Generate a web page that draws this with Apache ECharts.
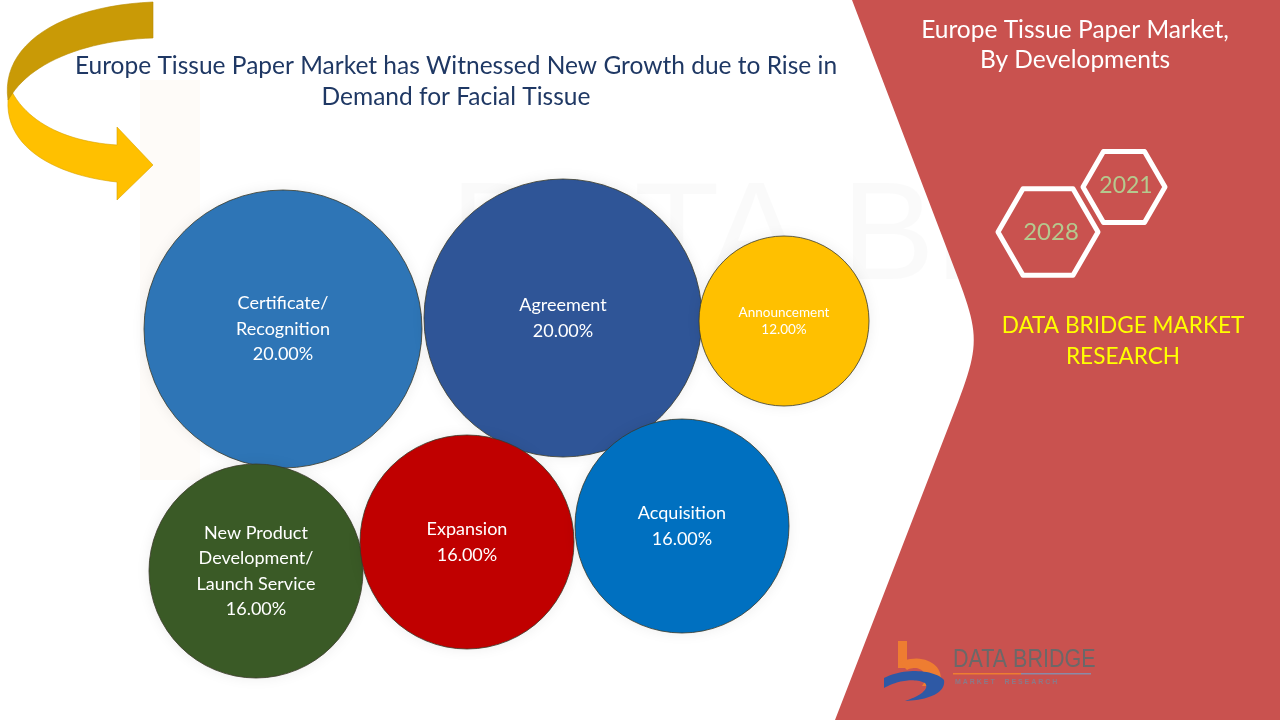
<!DOCTYPE html>
<html>
<head>
<meta charset="utf-8">
<script src="https://cdn.jsdelivr.net/npm/echarts@6/dist/echarts.min.js"></script>
<style>html,body{margin:0;padding:0;background:#fff}#c{width:1280px;height:720px}</style>
</head>
<body>
<div id="c"></div>
<script>
// ---- data ----
const categories = ['Certificate/\nRecognition', 'Agreement', 'Announcement', 'New Product\nDevelopment/\nLaunch Service', 'Expansion', 'Acquisition'];
const shares = [20, 20, 12, 16, 16, 16];
const bubbleX = [283, 563, 784, 256, 467, 682];
const bubbleY = [329, 318, 321, 571, 542, 526];
const years = ['2028', '2021'];
const mainTitle = 'Europe Tissue Paper Market has Witnessed New Growth due to Rise in\nDemand for Facial Tissue';
const sideTitle = 'Europe Tissue Paper Market,\nBy Developments';
const brand = 'DATA BRIDGE MARKET\nRESEARCH';

// ---- styles ----
const colors = ['#2E75B6', '#2F5597', '#FFC000', '#3A5A26', '#C00000', '#0070C0'];
const FONT = 'Lato, "Open Sans", sans-serif';
// bubble diameter (px) for a share value, as drawn in the source infographic
function bubbleDiameter(v) {
  return 0.625 * v * v - 6.5 * v + 158;
}

function hexPoints(cx, cy, r) {
  const pts = [];
  for (let i = 0; i < 6; i++) {
    const a = Math.PI / 3 * i;
    pts.push([cx + r * Math.cos(a), cy + r * Math.sin(a)]);
  }
  return pts;
}
// build polygon points from a list of segments: ['L',x,y] or ['C',x1,y1,x2,y2,x,y]
function pathPoints(start, segs) {
  const pts = [start.slice()];
  let cur = start.slice();
  segs.forEach(s => {
    if (s[0] === 'L') { cur = [s[1], s[2]]; pts.push(cur); }
    else {
      const p0 = cur, p1 = [s[1], s[2]], p2 = [s[3], s[4]], p3 = [s[5], s[6]];
      for (let k = 1; k <= 24; k++) {
        const t = k / 24, u = 1 - t;
        pts.push([
          u*u*u*p0[0] + 3*u*u*t*p1[0] + 3*u*t*t*p2[0] + t*t*t*p3[0],
          u*u*u*p0[1] + 3*u*u*t*p1[1] + 3*u*t*t*p2[1] + t*t*t*p3[1]
        ]);
      }
      cur = p3;
    }
  });
  return pts;
}

const redPanel = pathPoints([852, 0], [['L', 1280, 0], ['L', 1280, 720], ['L', 835, 720], ['L', 955, 410], ['C', 980, 345, 980, 335, 955, 270]]);
const arrowFront = pathPoints([8, 100], [['C', 5, 150, 60, 176, 117, 182], ['L', 117, 200], ['L', 153, 165], ['L', 117, 127], ['L', 117, 145], ['C', 70, 142, 30, 125, 12, 92]]);
const arrowBack = pathPoints([153, 2], [['L', 153, 38], ['C', 90, 40, 35, 60, 12, 94], ['L', 8, 100], ['C', 0, 45, 60, 6, 153, 2]]);
const logoB = pathPoints([899, 662], [['C', 930, 650, 948, 672, 938, 686], ['L', 922, 686], ['C', 932, 672, 917, 664, 907, 670]]);
const logoSwoosh = pathPoints([884, 678], [['C', 905, 667, 935, 670, 944, 680], ['C', 946, 692, 930, 700, 905, 701], ['C', 920, 696, 930, 689, 925, 683], ['C', 915, 678, 898, 680, 884, 688]]);

const chart = echarts.init(document.getElementById('c'), null, {renderer: 'canvas'});
const option = {
  animation: false,
  backgroundColor: '#ffffff',
  grid: {left: 0, right: 0, top: 0, bottom: 0},
  xAxis: {type: 'value', min: 0, max: 1280, show: false},
  yAxis: {type: 'value', min: 0, max: 720, inverse: true, show: false},
  graphic: [
    // faint watermark
    {type: 'text', z: -20, x: 450, y: 170, style: {text: 'DATA BRIDGE', font: '140px "Liberation Sans Narrow", sans-serif', fill: 'rgba(0,0,0,0.02)'}},
    {type: 'rect', z: -20, shape: {x: 140, y: 80, width: 60, height: 400}, style: {fill: 'rgba(240,130,70,0.035)'}},
    // red background panel
    {type: 'polygon', z: -10, shape: {points: redPanel}, style: {fill: '#C9524F'}},
    // curved arrow
    {type: 'polygon', z: 5, shape: {points: arrowFront}, style: {fill: '#FFC000', stroke: '#D9A300', lineWidth: 0.6}},
    {type: 'polygon', z: 5, shape: {points: arrowBack}, style: {fill: '#C99A06', stroke: '#B88C00', lineWidth: 0.6}},
    // titles
    {type: 'text', z: 5, x: 456, y: 51, style: {text: mainTitle, font: '24.5px ' + FONT, fill: '#1F3864', align: 'center', verticalAlign: 'top', lineHeight: 31}},
    {type: 'text', z: 5, x: 1075, y: 15, style: {text: sideTitle, font: '24.5px ' + FONT, fill: '#FFFFFF', align: 'center', verticalAlign: 'top', lineHeight: 30}},
    // hexagons
    {type: 'polygon', z: 5, shape: {points: hexPoints(1124, 187, 41)}, style: {fill: 'none', stroke: '#FFFFFF', lineWidth: 5, lineJoin: 'round'}},
    {type: 'polygon', z: 5, shape: {points: hexPoints(1048, 232, 50)}, style: {fill: 'none', stroke: '#FFFFFF', lineWidth: 5, lineJoin: 'round'}},
    {type: 'text', z: 6, x: 1051, y: 232, style: {text: years[0], font: '24px ' + FONT, fill: '#B5C98E', align: 'center', verticalAlign: 'middle'}},
    {type: 'text', z: 6, x: 1126, y: 186, style: {text: years[1], font: '23px ' + FONT, fill: '#B5C98E', align: 'center', verticalAlign: 'middle'}},
    // brand
    {type: 'text', z: 5, x: 1123, y: 310, style: {text: brand, font: '22.6px ' + FONT, fill: '#FFFF00', align: 'center', verticalAlign: 'top', lineHeight: 31}},
    // logo
    {type: 'rect', z: 5, shape: {x: 898, y: 641, width: 9, height: 27}, style: {fill: '#EE7D31'}},
    {type: 'polygon', z: 5, shape: {points: logoB}, style: {fill: '#EE7D31'}},
    {type: 'polygon', z: 5, shape: {points: logoSwoosh}, style: {fill: '#2E59A5'}},
    {type: 'text', z: 5, x: 953, y: 648, scaleX: 0.86, style: {text: 'DATA BRIDGE', font: '25px "Liberation Sans Narrow", sans-serif', fill: '#6B6868'}},
    {type: 'rect', z: 5, shape: {x: 953, y: 673, width: 68, height: 1.5}, style: {fill: '#EE7D31'}},
    {type: 'rect', z: 5, shape: {x: 1021, y: 673, width: 70, height: 1.5}, style: {fill: '#8A8AA8'}},
    {type: 'text', z: 5, x: 955, y: 679, style: {text: 'M A R K E T     R E S E A R C H', font: 'bold 7px sans-serif', fill: '#8A7A88'}}
  ],
  series: [{
    type: 'scatter',
    z: 3,
    data: categories.map((c, i) => ({
      name: c,
      value: [bubbleX[i], bubbleY[i], shares[i]],
      itemStyle: {color: colors[i]},
      label: shares[i] < 14 ? {fontSize: 13.5, lineHeight: 17} : {fontSize: 18, lineHeight: 25.5}
    })),
    symbol: 'circle',
    symbolSize: v => bubbleDiameter(v[2]),
    itemStyle: {borderColor: '#3A3A2A', borderWidth: 0.8, opacity: 1, shadowColor: 'rgba(0,0,0,0.08)', shadowBlur: 14},
    label: {
      show: true,
      position: 'inside',
      color: '#FFFFFF',
      fontFamily: 'Lato, "Open Sans", sans-serif',
      formatter: p => p.name + '\n' + p.value[2].toFixed(2) + '%'
    },
    emphasis: {disabled: true}
  }]
};
chart.setOption(option);
</script>
</body>
</html>
